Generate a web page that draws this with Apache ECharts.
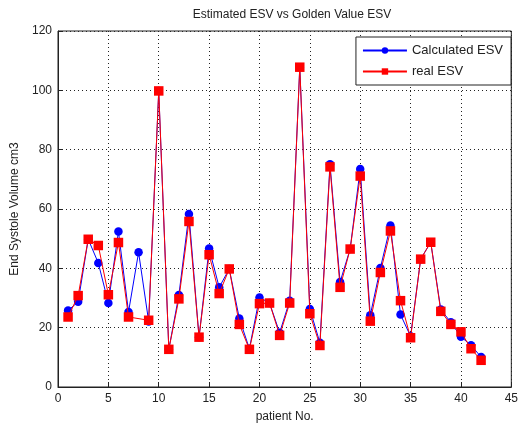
<!DOCTYPE html>
<html>
<head>
<meta charset="utf-8">
<script src="https://cdn.jsdelivr.net/npm/echarts@6/dist/echarts.min.js"></script>
<style>html,body{margin:0;padding:0;background:#fff}#c{width:521px;height:429px}</style>
</head>
<body>
<div id="c"></div>
<script>
const patients = [1,2,3,4,5,6,7,8,9,10,11,12,13,14,15,16,17,18,19,20,21,22,23,24,25,26,27,28,29,30,31,32,33,34,35,36,37,38,39,40,41,42];
const calculatedESV = [25.8,28.7,49.8,41.8,28.3,52.4,25.3,45.4,22.1,99.8,12.7,31.0,58.3,16.8,46.7,33.6,39.8,23.1,12.9,30.2,28.3,18.3,29.1,107.8,26.3,14.9,75.1,35.4,46.5,73.5,24.2,40.1,54.4,24.4,17.1,43.1,48.8,26.1,21.8,16.9,14.1,10.1];
const realESV = [23.6,30.8,49.8,47.7,31.1,48.7,23.6,null,22.5,99.8,12.7,29.7,55.8,16.8,44.6,31.5,39.8,21.1,12.7,28.1,28.3,17.4,28.3,107.8,24.7,14.0,74.2,33.6,46.5,71.1,22.2,38.6,52.6,29.1,16.6,43.1,48.8,25.5,21.1,18.6,12.9,9.0];
const xTicks = {min:0, max:45, interval:5};
const yTicks = {min:0, max:120, interval:20};

const font = '"Liberation Sans", Arial, sans-serif';
const pairs = arr => patients.map((p,i) => [p, arr[i]]);
const chart = echarts.init(document.getElementById('c'), null, {renderer:'canvas'});
const gridLine = {show:true, lineStyle:{color:'#222', type:[1,3], width:1}};
chart.setOption({
  animation:false,
  backgroundColor:'#fff',
  title:{text:'Estimated ESV vs Golden Value ESV', left:287, top:4, textAlign:'center',
    textStyle:{fontFamily:font, fontSize:12, fontWeight:'normal', color:'#222'}},
  grid:{left:58, right:8, top:31, bottom:42, show:true, borderColor:'#222', borderWidth:1, backgroundColor:'transparent'},
  legend:{orient:'vertical', right:10, top:37, backgroundColor:'#fff', borderColor:'#222', borderWidth:1,
    padding:[7,8,7,6], itemGap:8, itemWidth:44, itemHeight:8,
    textStyle:{fontFamily:font, fontSize:13, color:'#222'},
    data:['Calculated ESV','real ESV']},
  xAxis:{type:'value', min:xTicks.min, max:xTicks.max, interval:xTicks.interval,
    name:'patient No.', nameLocation:'middle', nameGap:24,
    nameTextStyle:{fontFamily:font, fontSize:12, color:'#222'},
    axisLine:{show:true, lineStyle:{color:'#222'}}, axisTick:{show:true, inside:true, length:5, lineStyle:{color:'#222'}},
    axisLabel:{fontFamily:font, fontSize:12, color:'#222', margin:6}, splitLine:gridLine},
  yAxis:{type:'value', min:yTicks.min, max:yTicks.max, interval:yTicks.interval,
    name:'End Systole Volume cm3', nameLocation:'middle', nameGap:31,
    nameTextStyle:{fontFamily:font, fontSize:12, color:'#222'},
    axisLine:{show:true, lineStyle:{color:'#222'}}, axisTick:{show:true, inside:true, length:5, lineStyle:{color:'#222'}},
    axisLabel:{fontFamily:font, fontSize:12, color:'#222', margin:6}, splitLine:gridLine},
  series:[
    {name:'Calculated ESV', type:'line', data:pairs(calculatedESV), symbol:'circle', symbolSize:8.5,
      lineStyle:{color:'#0000ff', width:1}, itemStyle:{color:'#0000ff'}, z:2},
    {name:'real ESV', type:'line', data:pairs(realESV), connectNulls:true, symbol:'rect', symbolSize:9.5,
      lineStyle:{color:'#ff0000', width:1}, itemStyle:{color:'#ff0000'}, z:3}
  ]
});
</script>
</body>
</html>
